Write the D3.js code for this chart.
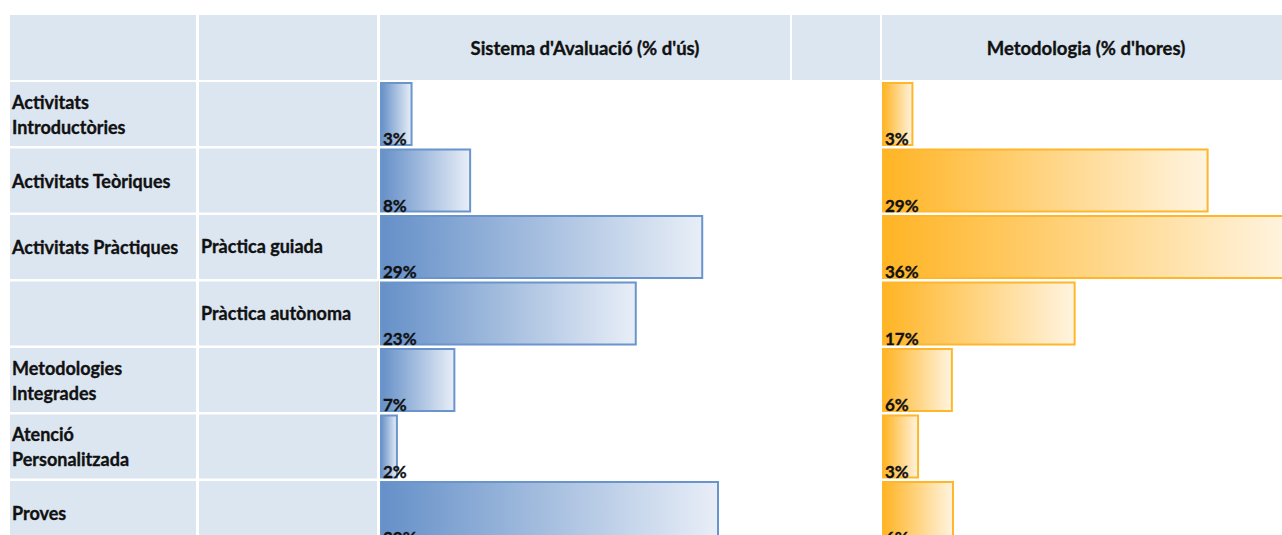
<!DOCTYPE html>
<html>
<head>
<meta charset="utf-8">
<script src="https://cdnjs.cloudflare.com/ajax/libs/d3/7.8.5/d3.min.js"></script>
<style>
  body { margin: 0; background: #fff; }
  text { font-family: Lato, "Open Sans", sans-serif; font-weight: bold; fill: #111;
         stroke: #111; stroke-width: 0.35px; }
</style>
</head>
<body>
<div id="wrapper"></div>
<script>
// data
let categories = [
    ['Activitats', 'Introductòries'],
    ['Activitats Teòriques'],
    ['Activitats Pràctiques'],
    [],
    ['Metodologies', 'Integrades'],
    ['Atenció', 'Personalitzada'],
    ['Proves']
];
let subcategories = ['', '', 'Pràctica guiada', 'Pràctica autònoma', '', '', ''];
let avaluacio = [2.8, 8.0, 28.6, 22.7, 6.6, 1.5, 30.0];
let metodologia = [2.7, 28.9, 36.0, 17.1, 6.2, 3.2, 6.3];
let headers = ["Sistema d'Avaluació (% d'ús)", "Metodologia (% d'hores)"];

let W = 1282, H = 535;

let svg = d3.select('#wrapper')
    .append('svg')
    .attr('width', W)
    .attr('height', H);

let defs = svg.append('defs');
function grad(id, c1, c2) {
    let g = defs.append('linearGradient').attr('id', id)
        .attr('x1', '0%').attr('x2', '100%').attr('y1', '0%').attr('y2', '0%');
    g.append('stop').attr('offset', '0%').attr('stop-color', c1);
    g.append('stop').attr('offset', '100%').attr('stop-color', c2);
}
grad('gBlue', '#6590c8', '#e8eef7');
grad('gOrange', '#ffb424', '#fff4e0');

// column edges
let cols = [[10, 196], [199, 377], [380, 790], [792, 880], [882, 1290]];
let cellBg = '#dce6f1';

// row positions
let y = d3.scaleLinear().domain([0, 7]).range([82, 82 + 7 * 66.5]);
let rowH = 64;
let x = d3.scaleLinear().domain([0, 30]).range([0, 338]);

// header row
svg.selectAll('rect.head')
    .data(cols)
    .enter()
    .append('rect')
    .attr('x', function (d) { return d[0] })
    .attr('y', 15)
    .attr('width', function (d) { return d[1] - d[0] })
    .attr('height', 65)
    .style('fill', cellBg);

svg.append('text').attr('x', 585).attr('y', 55)
    .attr('text-anchor', 'middle').style('font-size', '18.5px').text(headers[0]);
svg.append('text').attr('x', 1086).attr('y', 55)
    .attr('text-anchor', 'middle').style('font-size', '18.5px').text(headers[1]);

// label cells
let rows = svg.selectAll('g.row')
    .data(d3.range(categories.length))
    .enter()
    .append('g')
    .attr('class', 'row')
    .attr('transform', function (i) { return 'translate(0,' + y(i) + ')' });

rows.append('rect').attr('x', cols[0][0]).attr('width', cols[0][1] - cols[0][0])
    .attr('height', rowH).style('fill', cellBg);
rows.append('rect').attr('x', cols[1][0]).attr('width', cols[1][1] - cols[1][0])
    .attr('height', rowH).style('fill', cellBg);

rows.each(function (i) {
    let g = d3.select(this);
    let lines = categories[i];
    let y0 = rowH / 2 - (lines.length - 1) * 12.5 + 7;
    lines.forEach(function (t, k) {
        g.append('text').attr('x', 12).attr('y', y0 + k * 25)
            .style('font-size', '18px').text(t);
    });
    if (subcategories[i]) {
        g.append('text').attr('x', 201).attr('y', rowH / 2 + 6)
            .style('font-size', '18px').text(subcategories[i]);
    }
});

// bars
function drawBars(values, x0, fillId, stroke) {
    rows.append('rect')
        .attr('x', x0 + 1)
        .attr('y', 1)
        .attr('width', function (i) { return x(values[i]) - 1 })
        .attr('height', rowH - 2)
        .style('fill', 'url(#' + fillId + ')')
        .style('stroke', stroke)
        .style('stroke-width', 2);
    rows.append('text')
        .attr('x', x0 + 3)
        .attr('y', rowH - 1)
        .style('font-size', '17px')
        .text(function (i) { return Math.round(values[i]) + '%' });
}
drawBars(avaluacio, cols[2][0], 'gBlue', '#6a94cc');
drawBars(metodologia, cols[4][0], 'gOrange', '#ffb62a');

// selection marker
svg.append('line').attr('x1', 378).attr('x2', 378)
    .attr('y1', y(3)).attr('y2', y(3) + rowH)
    .style('stroke', '#888').style('stroke-dasharray', '1,1');
</script>
</body>
</html>
